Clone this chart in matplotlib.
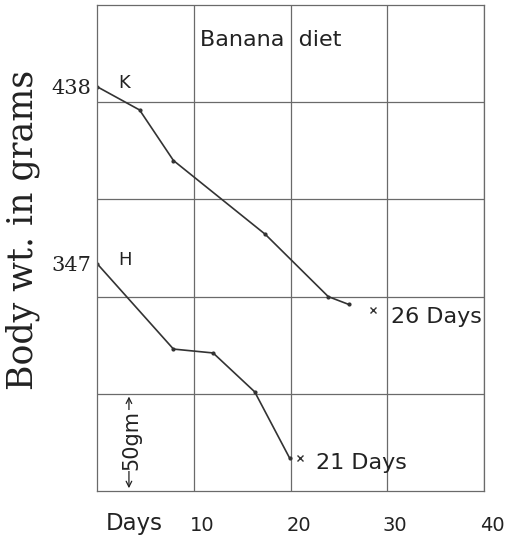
import matplotlib
matplotlib.use("Agg")
import matplotlib.pyplot as plt
import matplotlib.transforms as mtransforms

# Data
k_days = [0, 4.4, 7.9, 17.4, 23.9, 26.0]
k_wt = [438, 426, 400, 362, 330, 326]
h_days = [0, 7.9, 12.0, 16.3, 19.9]
h_wt = [347, 303, 301, 281, 247]
k_cross = (28.5, 323)
h_cross = (21.0, 247)
k_label = "26 Days"
h_label = "21 Days"
x_ticks = [10, 20, 30, 40]
x_ticklabels = ["10", "20", "30", "40"]
y_ticks = [438, 347]
y_ticklabels = ["438", "347"]
y_grid = [280, 330, 380, 430]

fig = plt.figure(figsize=(5.09, 5.43), dpi=100)
ax = fig.add_axes([0.1906, 0.0958, 0.7603, 0.895])
ax.set_xlim(0, 40)
ax.set_ylim(230, 480)

gridc = "#6a6a6a"
for s in ax.spines.values():
    s.set_color(gridc)
    s.set_linewidth(0.9)

ax.set_xticks(x_ticks)
ax.set_xticklabels(x_ticklabels, fontsize=14, family="DejaVu Sans", color="#222222")
ax.set_yticks(y_ticks)
ax.set_yticklabels(y_ticklabels, fontsize=15, family="DejaVu Serif", color="#222222")
ax.set_yticks(y_grid, minor=True)
ax.tick_params(axis="both", which="both", length=0)
ax.tick_params(axis="x", pad=18)
ax.tick_params(axis="y", pad=4)
for lab in ax.get_xticklabels():
    lab.set_transform(lab.get_transform() + mtransforms.ScaledTranslation(8/100, 0, fig.dpi_scale_trans))
ax.grid(True, which="major", axis="x", color=gridc, lw=0.9)
ax.grid(True, which="minor", axis="y", color=gridc, lw=0.9)

lc = "#333333"
ax.plot(k_days, k_wt, color=lc, lw=1.2, marker="o", ms=2)
ax.plot(h_days, h_wt, color=lc, lw=1.2, marker="o", ms=2)
ax.plot([k_cross[0]], [k_cross[1]], marker="x", color=lc, ms=4, mew=1)
ax.plot([h_cross[0]], [h_cross[1]], marker="x", color=lc, ms=4, mew=1)
ax.text(k_cross[0] + 1.9, k_cross[1] - 3.5, k_label, fontsize=16, family="DejaVu Sans",
        color="#222222", va="center", ha="left")
ax.text(h_cross[0] + 1.6, h_cross[1] - 2.5, h_label, fontsize=16, family="DejaVu Sans",
        color="#222222", va="center", ha="left")

ax.text(2.2, 440, "K", fontsize=13, color="#222222", va="center")
ax.text(2.2, 349, "H", fontsize=13, color="#222222", va="center")
ax.text(0.266, 0.928, "Banana  diet", transform=ax.transAxes, fontsize=16,
        color="#222222", ha="left", va="center")

ax.set_ylabel("Body wt. in grams", fontsize=25, family="DejaVu Serif", color="#222222")
ax.yaxis.set_label_coords(-0.147, 0.537)

ax.text(3.9, -0.066, "Days", transform=ax.get_xaxis_transform(), fontsize=16.5,
        color="#222222", ha="center", va="center")

# 50 gm scale arrow
ax.annotate("", xy=(3.3, 280), xytext=(3.3, 230), arrowprops=dict(arrowstyle="<->", color="#222222", lw=0.9))
ax.text(3.6, 256, "50gm", rotation=90, fontsize=15, color="#222222", ha="center", va="center",
        bbox=dict(facecolor="white", edgecolor="none", pad=0.5))

fig.savefig("out.png", dpi=100)
